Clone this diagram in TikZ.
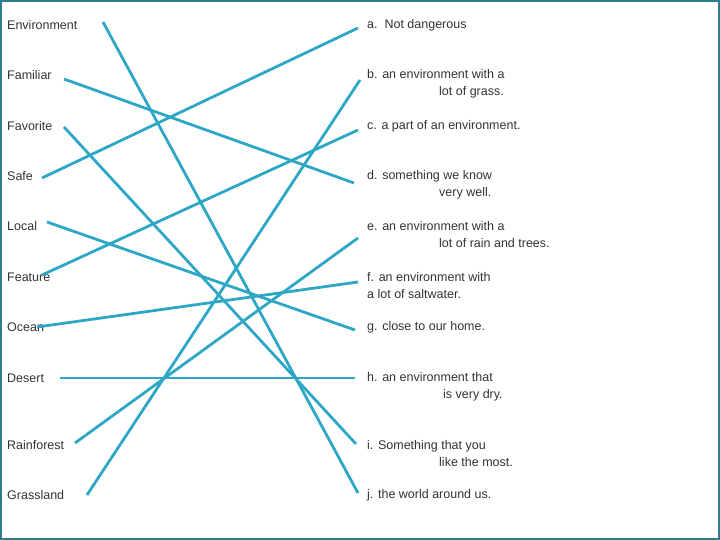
\documentclass[tikz,border=0pt]{standalone}
\usepackage{fontspec}
\setmainfont{Liberation Sans}
\definecolor{frame}{HTML}{2E7D8C}
\definecolor{link}{HTML}{2EA7C6}
\definecolor{ink}{HTML}{333333}
\tikzset{
    word/.style={anchor=west, inner sep=0pt, text=ink, font=\fontsize{12.5}{17}\selectfont, align=left},
    match/.style={draw=link, line width=2.8pt}
}
\begin{document}
\begin{tikzpicture}[x=1pt, y=-1pt]
    \draw[frame, line width=2pt] (1,1) rectangle (719,539);
    \useasboundingbox (0,0) rectangle (720,540);

    % left column
    \node[word] (env) at (7,25) {Environment};
    \node[word] (fam) at (7,75) {Familiar};
    \node[word] (fav) at (7,126) {Favorite};
    \node[word] (safe) at (7,176) {Safe};
    \node[word] (loc) at (7,226) {Local};
    \node[word] (feat) at (7,277) {Feature};
    \node[word] (ocean) at (7,327) {Ocean};
    \node[word] (des) at (7,378) {Desert};
    \node[word] (rain) at (7,445) {Rainforest};
    \node[word] (grass) at (7,495) {Grassland};

    % right column
    \node[word] (a) at (367,25) {a.\ \ Not dangerous};
    \node[word] (b) at (367,83.5) {b. an environment with a\\\hspace*{72pt}lot of grass.};
    \node[word] (c) at (367,126) {c. a part of an environment.};
    \node[word] (d) at (367,184.5) {d. something we know\\\hspace*{72pt}very well.};
    \node[word] (e) at (367,234.5) {e. an environment with a\\\hspace*{72pt}lot of rain and trees.};
    \node[word] (f) at (367,285.5) {f. an environment with\\a lot of saltwater.};
    \node[word] (g) at (367,327) {g. close to our home.};
    \node[word] (h) at (367,386.5) {h. an environment that\\\hspace*{76pt}is very dry.};
    \node[word] (i) at (367,453.5) {i. Something that you\\\hspace*{72pt}like the most.};
    \node[word] (j) at (367,495) {j. the world around us.};

    % line ends
    \coordinate (env1) at (103,22);   \coordinate (j1) at (358,493);
    \coordinate (fam1) at (64,79);    \coordinate (d1) at (354,183);
    \coordinate (fav1) at (64,127);   \coordinate (i1) at (356,444);
    \coordinate (safe1) at (42,178);  \coordinate (a1) at (358,28);
    \coordinate (loc1) at (47,222);   \coordinate (g1) at (355,330);
    \coordinate (feat1) at (42,275);  \coordinate (c1) at (358,130);
    \coordinate (ocean1) at (37,327); \coordinate (f1) at (358,282);
    \coordinate (des1) at (60,378);   \coordinate (h1) at (355,378);
    \coordinate (rain1) at (75,443);  \coordinate (e1) at (358,238);
    \coordinate (grass1) at (87,495); \coordinate (b1) at (360,80);

    \foreach \p/\q in {env1/j1, fam1/d1, fav1/i1, safe1/a1, loc1/g1,
                       feat1/c1, ocean1/f1, des1/h1, rain1/e1, grass1/b1}
        \draw[match] (\p) -- (\q);
\end{tikzpicture}
\end{document}
